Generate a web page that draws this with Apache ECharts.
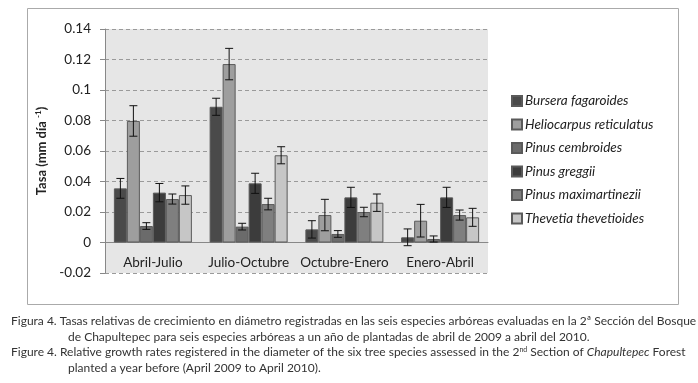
<!DOCTYPE html>
<html>
<head>
<meta charset="utf-8">
<script src="https://cdn.jsdelivr.net/npm/echarts@6/dist/echarts.min.js"></script>
<style>
  html, body { margin: 0; padding: 0; background: #fff; }
  #chart { width: 698px; height: 383px; }
</style>
</head>
<body>
<div id="chart"></div>
<script>
// periodos
const categories = ['Abril-Julio', 'Julio-Octubre', 'Octubre-Enero', 'Enero-Abril'];
const species = ['Bursera fagaroides', 'Heliocarpus reticulatus', 'Pinus cembroides',
                 'Pinus greggii', 'Pinus maximartinezii', 'Thevetia thevetioides'];
const colors = ['#4a4a4a', '#9e9e9e', '#6b6b6b', '#3c3c3c', '#7f7f7f', '#c6c6c6'];

// tasas (mm dia-1)
const bursera = [0.0355, 0.089, 0.0086, 0.0034];
const heliocarpus = [0.0797, 0.117, 0.018, 0.0143];
const cembroides = [0.0108, 0.0104, 0.0056, 0.0023];
const greggii = [0.0327, 0.0388, 0.0296, 0.0296];
const maximartinezii = [0.0285, 0.0252, 0.020, 0.018];
const thevetia = [0.0311, 0.0572, 0.0261, 0.0165];

// error estandar
const errBursera = [0.0065, 0.0056, 0.0057, 0.0055];
const errHeliocarpus = [0.010, 0.0103, 0.0103, 0.0107];
const errCembroides = [0.0022, 0.0022, 0.0022, 0.002];
const errGreggii = [0.006, 0.0066, 0.0066, 0.0066];
const errMaximartinezii = [0.0033, 0.0038, 0.0031, 0.0033];
const errThevetia = [0.006, 0.0056, 0.0057, 0.0059];

const values = [bursera, heliocarpus, cembroides, greggii, maximartinezii, thevetia];
const errors = [errBursera, errHeliocarpus, errCembroides, errGreggii, errMaximartinezii, errThevetia];

const BAR_W = 13;

let chart = echarts.init(document.getElementById('chart'), null, {renderer: 'canvas'});

let barSeries = species.map((name, k) => ({
    name: name,
    type: 'bar',
    data: values[k],
    barWidth: BAR_W,
    barGap: '0%',
    itemStyle: { color: colors[k], borderColor: '#5a5a5a', borderWidth: 1 }
}));

// barras de error
let errSeries = species.map((name, k) => ({
    name: 'err' + k,
    type: 'custom',
    z: 5,
    silent: true,
    data: values[k].map((v, i) => [i, v, errors[k][i]]),
    encode: { x: 0, y: 1 },
    renderItem: function (params, api) {
        let c = api.value(0), v = api.value(1), e = api.value(2);
        let off = (k - 2.5) * BAR_W;
        let top = api.coord([c, v + e]);
        let bot = api.coord([c, v - e]);
        let x = top[0] + off;
        let st = { stroke: '#111', lineWidth: 1 };
        return {
            type: 'group',
            children: [
                { type: 'line', shape: { x1: x, y1: top[1], x2: x, y2: bot[1] }, style: st },
                { type: 'line', shape: { x1: x - 4, y1: top[1], x2: x + 4, y2: top[1] }, style: st },
                { type: 'line', shape: { x1: x - 4, y1: bot[1], x2: x + 4, y2: bot[1] }, style: st }
            ]
        };
    }
}));

const capFont = '12px Lato';

chart.setOption({
    animation: false,
    textStyle: { fontFamily: 'Lato' },
    grid: {
        left: 105, top: 29, width: 383, height: 244,
        show: true, backgroundColor: '#e6e6e6', borderWidth: 0
    },
    legend: {
        data: species,
        orient: 'vertical',
        left: 506, top: 89,
        itemWidth: 10, itemHeight: 10, itemGap: 9.5,
        icon: 'rect',
        textStyle: { fontSize: 13.5, fontStyle: 'italic', color: '#222', fontFamily: 'Lato', padding: [0, 0, 0, -2] }
    },
    xAxis: {
        type: 'category',
        data: categories,
        axisLine: { onZero: true, lineStyle: { color: '#888' } },
        axisTick: { show: false },
        axisLabel: { fontSize: 13.5, color: '#222', margin: -17, interval: 0 }
    },
    yAxis: {
        type: 'value',
        min: -0.02, max: 0.14, interval: 0.02,
        name: 'Tasa (mm día {sup|-1})',
        nameLocation: 'middle',
        nameGap: 46,
        nameTextStyle: {
            fontSize: 13, fontWeight: 'bold', color: '#222',
            rich: { sup: { fontSize: 8, fontWeight: 'bold', verticalAlign: 'top', padding: [0, 0, 6, 0], color: '#222' } }
        },
        axisLine: { show: true, lineStyle: { color: '#888' } },
        axisTick: { show: true, length: 5, lineStyle: { color: '#888' } },
        axisLabel: {
            fontSize: 13.5, color: '#222', margin: 14,
            formatter: v => String(parseFloat(v.toFixed(2)))
        },
        splitLine: { lineStyle: { color: '#9a9a9a', type: [4, 3] } }
    },
    graphic: [
        { type: 'rect', left: 25, top: 6, shape: { width: 651, height: 296 },
          style: { fill: null, stroke: '#aaa', lineWidth: 1 }, z: -1 },
        { type: 'text', left: 11, top: 315,
          style: { text: 'Figura 4. Tasas relativas de crecimiento en diámetro registradas en las seis especies arbóreas evaluadas en la 2ª Sección del Bosque',
                   font: capFont, fill: '#333' } },
        { type: 'text', left: 68, top: 331,
          style: { text: 'de Chapultepec para seis especies arbóreas a un año de plantadas de abril de 2009 a abril del 2010.',
                   font: capFont, fill: '#333' } },
        { type: 'text', left: 11, top: 346,
          style: { text: 'Figure 4. Relative growth rates registered in the diameter of the six tree species assessed in the 2{sup|nd} Section of {it|Chapultepec} Forest',
                   font: capFont, fill: '#333',
                   rich: { sup: { fontSize: 7, fontFamily: 'Lato', verticalAlign: 'top', fill: '#333' },
                           it: { fontSize: 12, fontFamily: 'Lato', fontStyle: 'italic', fill: '#333' } } } },
        { type: 'text', left: 68, top: 362,
          style: { text: 'planted a year before (April 2009 to April 2010).',
                   font: capFont, fill: '#333' } }
    ],
    series: barSeries.concat(errSeries)
});
</script>
</body>
</html>
